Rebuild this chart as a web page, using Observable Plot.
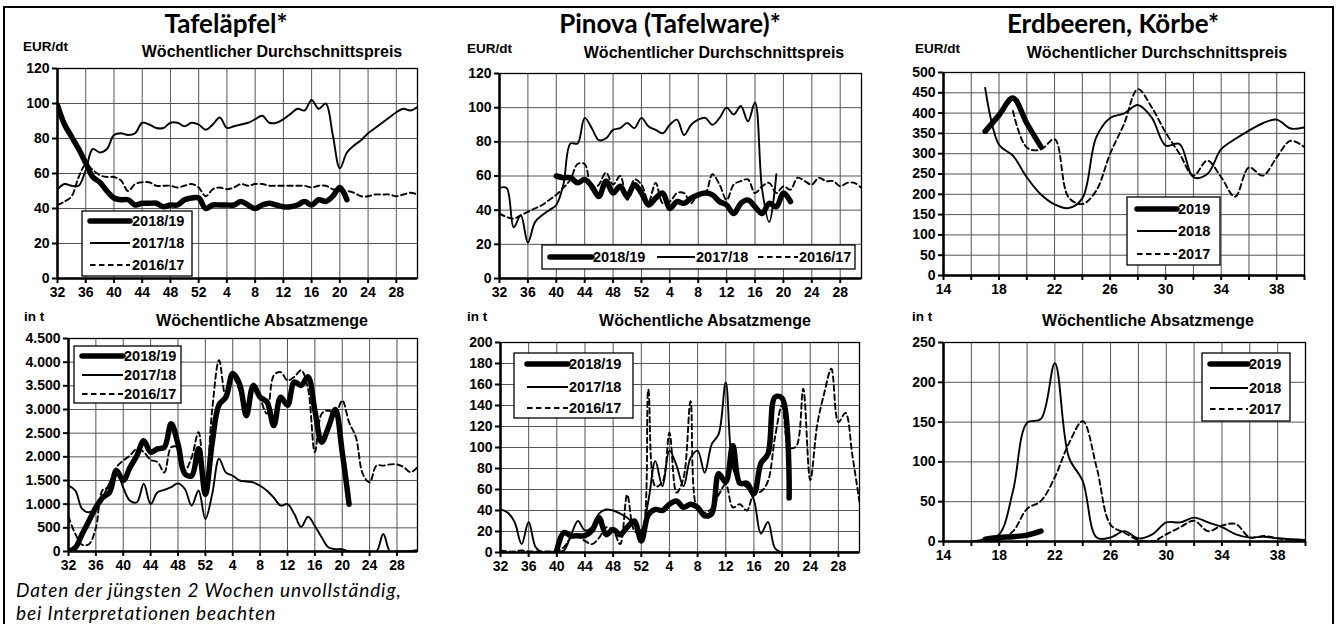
<!DOCTYPE html>
<html><head><meta charset="utf-8">
<script src="https://cdn.jsdelivr.net/npm/d3@7"></script>
<script src="https://cdn.jsdelivr.net/npm/@observablehq/plot@0.6"></script>
<style>
body{margin:0;background:#fff;}
#root{position:relative;width:1337px;height:624px;overflow:hidden;background:#fff;font-family:"Liberation Sans",Arial,sans-serif;color:#000;}
.abs{position:absolute;white-space:nowrap;line-height:1;}
.title{font-family:Lato,sans-serif;font-weight:700;font-size:26px;transform:translate(-50%,-50%);}
.sub{font-weight:700;font-size:16px;transform:translate(-50%,-50%);}
.unit{font-weight:700;font-size:13.5px;transform:translateY(-50%);}
.caption{font-family:Lato,sans-serif;font-style:italic;font-size:19px;line-height:23px;letter-spacing:0.9px;}
.border{position:absolute;left:3px;top:6px;width:1327px;height:700px;border:2px solid #000;}
svg[class*="plot"] text{font-size:14px;font-weight:bold;}
svg g[aria-label="x-axis"] line, svg g[aria-label="y-axis"] line,
svg g[aria-label="x-axis tick"] path, svg g[aria-label="y-axis tick"] path{stroke-width:2;}
</style></head>
<body><div id="root"><div class="border"></div></div>
<script>
// ---------- labels ----------
const titles = ["Tafeläpfel*", "Pinova (Tafelware)*", "Erdbeeren, Körbe*"];
const priceTitle = "Wöchentlicher Durchschnittspreis";
const volumeTitle = "Wöchentliche Absatzmenge";
const priceUnit = "EUR/dt";
const volumeUnit = "in t";
const captionLines = ["Daten der jüngsten 2 Wochen unvollständig,", "bei Interpretationen beachten"];
const seasonLabels = ["2018/19", "2017/18", "2016/17"];
const strawLabels = ["2019", "2018", "2017"];

// ---------- categories (weeks) ----------
const appleWeeks = [32,33,34,35,36,37,38,39,40,41,42,43,44,45,46,47,48,49,50,51,52,
  1,2,3,4,5,6,7,8,9,10,11,12,13,14,15,16,17,18,19,20,21,22,23,24,25,26,27,28,29,30,31];
const appleTickWeeks = [32,36,40,44,48,52,4,8,12,16,20,24,28];
const strawWeeks = [14,15,16,17,18,19,20,21,22,23,24,25,26,27,28,29,30,31,32,33,34,35,36,37,38,39,40];
const strawTickWeeks = [14,16,18,20,22,24,26,28,30,32,34,36,38,40];
const strawLabelWeeks = [14,18,22,26,30,34,38];

// ---------- y ticks ----------
const applePriceTicks = [0,20,40,60,80,100,120];
const strawPriceTicks = [0,50,100,150,200,250,300,350,400,450,500];
const tafelVolTicks = [0,500,1000,1500,2000,2500,3000,3500,4000,4500];
const pinovaVolTicks = [0,20,40,60,80,100,120,140,160,180,200];
const strawVolTicks = [0,50,100,150,200,250];

// ---------- Tafeläpfel price ----------
const tafelPrice1819 = [99,88,81,74,66,58,55,50,46,45,45,42,43,43,43,41,42,42,45,46,46,40,42,42,42,42,44,42,40,42,43,42,41,41,42,44,42,45,44,47,52,45,
  null,null,null,null,null,null,null,null,null,null];
const tafelPrice1718 = [51,54,53,53,62,74,72,74,82,83,82,83,89,88,86,86,89,89,87,89,88,85,88,92,86,87,88,89,91,93,89,89,91,94,97,96,102,97,100,82,63,72,76,79,83,86,89,92,95,97,96,98];
const tafelPrice1617 = [42,44,47,58,65,62,59,58,58,56,50,54,55,55,53,53,53,52,53,54,52,47,51,52,51,52,54,53,54,54,53,53,53,53,53,53,52,53,53,51,50,50,49,47,47,48,48,48,47,48,49,48];

// ---------- Pinova price ----------
const pinovaPrice1819 = [null,null,null,null,null,null,null,null,
  60,59,59,56,58,54,48,57,50,54,48,55,50,43,47,50,41,45,44,47,49,50,49,45,43,38,44,46,42,38,44,42,50,45,
  null,null,null,null,null,null,null,null,null,null];
const pinovaPrice1718 = [53,53,30,37,21,33,37,40,43,55,79,79,94,88,81,82,87,88,91,88,94,89,87,85,90,93,84,90,93,94,90,94,100,96,101,92,103,52,33,61,
  null,null,null,null,null,null,null,null,null,null,null,null];
const pinovaPrice1617 = [38,36,35,37,39,41,43,46,49,53,58,67,67,52,55,62,55,60,46,58,55,45,56,44,45,50,50,44,50,50,61,55,46,55,57,58,50,54,56,50,54,52,59,57,55,59,57,57,54,56,56,53];

// ---------- Erdbeeren price ----------
const strawPrice2019 = [null,null,null,355,395,437,375,318,null,null,null,null,null,null,null,null,null,null,null,null,null,null,null,null,null,null,null];
const strawPrice2018 = [null,null,null,462,322,295,242,200,175,166,190,340,388,399,420,389,320,324,242,250,311,336,357,375,384,362,365];
const strawPrice2017 = [null,null,null,null,null,405,315,310,336,193,176,209,300,373,459,414,352,300,246,283,242,194,266,246,291,332,316];

// ---------- Tafeläpfel volume ----------
const tafelVol1819 = [0,80,370,650,930,1140,1250,1710,1500,1780,2030,2340,2100,2170,2200,2700,2270,1640,1600,2170,1210,2300,3100,3260,3760,3540,2870,3510,3260,3160,2660,3260,3090,3580,3510,3690,2980,2310,2630,3000,2100,1000,
  null,null,null,null,null,null,null,null,null,null];
const tafelVol1718 = [1390,1285,900,830,930,1150,1450,1700,1350,1070,1040,1430,1000,1250,1300,1360,1440,1320,970,1290,685,1215,1960,1670,1600,1500,1480,1460,1390,1285,1140,970,1000,790,520,735,540,300,85,50,50,0,0,0,0,0,370,0,0,0,10,30];
const tafelVol1617 = [735,370,140,155,500,1300,1360,1780,1920,2030,2170,2100,1935,1890,1670,2200,2200,1710,1990,2520,1300,3000,4040,3260,3690,3400,3050,3475,3230,2910,3720,3790,3615,3690,3830,3440,2100,2910,2980,2910,3190,2730,2415,1640,1460,1815,1815,1840,1840,1780,1675,1780];

// ---------- Pinova volume ----------
const pinovaVol1819 = [null,null,null,null,null,null,null,null,
  2,19,16,16,16,21,33,17,22,17,24,30,11,36,41,40,46,49,43,46,43,35,37,75,67,102,66,66,56,85,94,148,147,52,
  null,null,null,null,null,null,null,null,null,null];
const pinovaVol1718 = [41,38,29,8,29,5,0,0,1,2,16,30,21,24,37,41,40,37,33,27,21,49,87,63,97,83,63,90,97,76,103,113,162,81,67,62,50,18,29,4,0,0,0,0,0,0,0,0,0,0,0,0];
const pinovaVol1617 = [2,1,1,2,1,1,1,1,2,5,14,15,11,8,14,24,21,8,55,21,17,155,63,67,114,57,71,144,40,38,42,55,65,43,46,40,56,58,68,110,140,100,101,156,69,122,152,175,124,133,92,48];

// ---------- Erdbeeren volume ----------
const strawVol2019 = [null,null,null,3,5,6,8,13,null,null,null,null,null,null,null,null,null,null,null,null,null,null,null,null,null,null,null];
const strawVol2018 = [null,null,0,3,9,64,149,154,224,106,76,5,5,13,4,9,24,24,30,24,18,9,5,6,4,3,2];
const strawVol2017 = [null,null,null,0,2,13,41,51,81,123,151,93,21,11,2,0,9,18,26,13,20,22,5,7,4,2,1];

// ---------- helpers ----------
const root = document.getElementById("root");
const appleIdx = appleWeeks.map((w, i) => i);
const pts = (xs, ys) => ys.map((v, i) => ({x: xs[i], y: v})).filter(d => d.y != null);
const deNum = d => d >= 1000 ? Math.floor(d / 1000) + "." + String(d % 1000).padStart(3, "0") : String(d);
const STY = {
  thick: {strokeWidth: 5.5},
  thin: {strokeWidth: 1.9},
  dash: {strokeWidth: 1.9, strokeDasharray: "5.5,3.5"}
};

function addText(cls, text, x, y) {
  const d = document.createElement("div");
  d.className = "abs " + cls;
  d.textContent = text;
  d.style.left = x + "px";
  d.style.top = y + "px";
  root.appendChild(d);
  return d;
}

function panel(cfg) {
  const {x0, x1, y0, y1} = cfg.frame;
  const mL = 52, mR = 8, mT = 8, mB = 32;
  const order = [2, 1, 0];
  const styles = [STY.thick, STY.thin, STY.dash];
  const marks = [
    Plot.ruleY(cfg.yTicks, {stroke: "#555", strokeWidth: 1}),
    Plot.ruleX(cfg.xGrid, {stroke: "#555", strokeWidth: 1}),
    Plot.frame({stroke: "#000", strokeWidth: 1.3}),
    ...order.map(k => Plot.line(pts(cfg.xs, cfg.series[k]), {
      x: "x", y: "y", curve: "catmull-rom", stroke: "#000",
      strokeLinecap: "round", strokeLinejoin: "round", clip: true, ...styles[k]
    })),
    Plot.ruleY([cfg.yDomain[0]], {stroke: "#000", strokeWidth: 2.5}),
    Plot.ruleX([cfg.xDomain[0]], {stroke: "#000", strokeWidth: 2.5})
  ];
  const chart = Plot.plot({
    width: (x1 - x0) + mL + mR,
    height: (y1 - y0) + mT + mB,
    marginLeft: mL, marginRight: mR, marginTop: mT, marginBottom: mB,
    x: {domain: cfg.xDomain, ticks: cfg.xTicks, tickFormat: cfg.xFormat, tickSize: 5, tickPadding: 4, label: null},
    y: {domain: cfg.yDomain, ticks: cfg.yTicks, tickFormat: cfg.yFormat, tickSize: 5, tickPadding: 3, label: null},
    style: {background: "transparent", fontFamily: "Liberation Sans, Arial, sans-serif", fontSize: "14px", fontWeight: "bold", color: "#000", overflow: "visible"},
    marks
  });
  chart.style.position = "absolute";
  chart.style.left = (x0 - mL) + "px";
  chart.style.top = (y0 - mT) + "px";
  chart.style.maxWidth = "none";
  root.appendChild(chart);
}

function legend(box, labels, items) {
  const svg = d3.create("svg")
    .attr("width", box.w + 4).attr("height", box.h + 4)
    .style("position", "absolute").style("left", (box.x - 2) + "px").style("top", (box.y - 2) + "px")
    .style("overflow", "visible");
  svg.append("rect").attr("x", 2).attr("y", 2).attr("width", box.w).attr("height", box.h)
    .attr("fill", "#fff").attr("stroke", "#000").attr("stroke-width", 1.3);
  const styles = [STY.thick, STY.thin, STY.dash];
  items.forEach((it, k) => {
    const s = styles[k];
    const ln = svg.append("line").attr("x1", 2 + it.a).attr("x2", 2 + it.b).attr("y1", 2 + it.y).attr("y2", 2 + it.y)
      .attr("stroke", "#000").attr("stroke-width", s.strokeWidth).attr("stroke-linecap", k === 0 ? "round" : "butt");
    if (s.strokeDasharray) ln.attr("stroke-dasharray", s.strokeDasharray);
    svg.append("text").attr("x", 2 + it.t).attr("y", 2 + it.y).attr("dy", "0.36em")
      .attr("font-family", "Liberation Sans, Arial, sans-serif").attr("font-weight", "bold").attr("font-size", "14.5px")
      .text(labels[k]);
  });
  root.appendChild(svg.node());
}

const appleX = {xs: appleIdx, xDomain: [0, 51],
  xTicks: appleTickWeeks.map(w => appleWeeks.indexOf(w)),
  xGrid: appleTickWeeks.map(w => appleWeeks.indexOf(w)),
  xFormat: i => String(appleWeeks[i])};
const strawX = {xs: strawWeeks, xDomain: [14, 40], xTicks: strawTickWeeks, xGrid: strawTickWeeks,
  xFormat: w => strawLabelWeeks.includes(w) ? String(w) : ""};

// ---------- panels ----------
panel({...appleX, frame: {x0: 57, x1: 417, y0: 68, y1: 278}, yDomain: [0, 120], yTicks: applePriceTicks, yFormat: deNum,
  series: [tafelPrice1819, tafelPrice1718, tafelPrice1617]});
panel({...appleX, frame: {x0: 499, x1: 861, y0: 73, y1: 278}, yDomain: [0, 120], yTicks: applePriceTicks, yFormat: deNum,
  series: [pinovaPrice1819, pinovaPrice1718, pinovaPrice1617]});
panel({...strawX, frame: {x0: 943, x1: 1304, y0: 72, y1: 275}, yDomain: [0, 500], yTicks: strawPriceTicks, yFormat: deNum,
  series: [strawPrice2019, strawPrice2018, strawPrice2017]});
panel({...appleX, frame: {x0: 68, x1: 417, y0: 338, y1: 551}, yDomain: [0, 4500], yTicks: tafelVolTicks, yFormat: deNum,
  series: [tafelVol1819, tafelVol1718, tafelVol1617]});
panel({...appleX, frame: {x0: 500, x1: 859, y0: 342, y1: 552}, yDomain: [0, 200], yTicks: pinovaVolTicks, yFormat: deNum,
  series: [pinovaVol1819, pinovaVol1718, pinovaVol1617]});
panel({...strawX, frame: {x0: 943, x1: 1305, y0: 342, y1: 541}, yDomain: [0, 250], yTicks: strawVolTicks, yFormat: deNum,
  series: [strawVol2019, strawVol2018, strawVol2017]});

// ---------- legends ----------
legend({x: 82, y: 211, w: 110, h: 65}, seasonLabels, [{a: 8, b: 48, t: 50, y: 10}, {a: 8, b: 48, t: 50, y: 32}, {a: 8, b: 48, t: 50, y: 54}]);
legend({x: 542, y: 245, w: 313, h: 24}, seasonLabels, [{a: 8, b: 50, t: 51, y: 12}, {a: 115, b: 153, t: 154, y: 12}, {a: 216, b: 256, t: 257, y: 12}]);
legend({x: 1127, y: 197, w: 93, h: 68}, strawLabels, [{a: 10, b: 50, t: 51, y: 12}, {a: 10, b: 50, t: 51, y: 34}, {a: 10, b: 50, t: 51, y: 57}]);
legend({x: 74, y: 346, w: 107, h: 57}, seasonLabels, [{a: 8, b: 49, t: 50, y: 10}, {a: 8, b: 49, t: 50, y: 29}, {a: 8, b: 49, t: 50, y: 48}]);
legend({x: 514, y: 353, w: 119, h: 65}, seasonLabels, [{a: 13, b: 54, t: 55, y: 11}, {a: 13, b: 54, t: 55, y: 34}, {a: 13, b: 54, t: 55, y: 55}]);
legend({x: 1202, y: 353, w: 88, h: 68}, strawLabels, [{a: 8, b: 46, t: 47, y: 11}, {a: 8, b: 46, t: 47, y: 35}, {a: 8, b: 46, t: 47, y: 56}]);

// ---------- texts ----------
addText("title", titles[0], 226, 23);
addText("title", titles[1], 670, 23);
addText("title", titles[2], 1113, 23);
addText("unit", priceUnit, 23, 47);
addText("unit", priceUnit, 467, 49);
addText("unit", priceUnit, 915, 49);
addText("unit", volumeUnit, 24, 317);
addText("unit", volumeUnit, 467, 317);
addText("unit", volumeUnit, 912, 317);
addText("sub", priceTitle, 272, 52);
addText("sub", priceTitle, 714, 53);
addText("sub", priceTitle, 1157, 53);
addText("sub", volumeTitle, 262, 321);
addText("sub", volumeTitle, 705, 321);
addText("sub", volumeTitle, 1148, 321);
addText("caption", captionLines[0], 16, 578);
addText("caption", captionLines[1], 16, 601);
</script>
</body></html>
